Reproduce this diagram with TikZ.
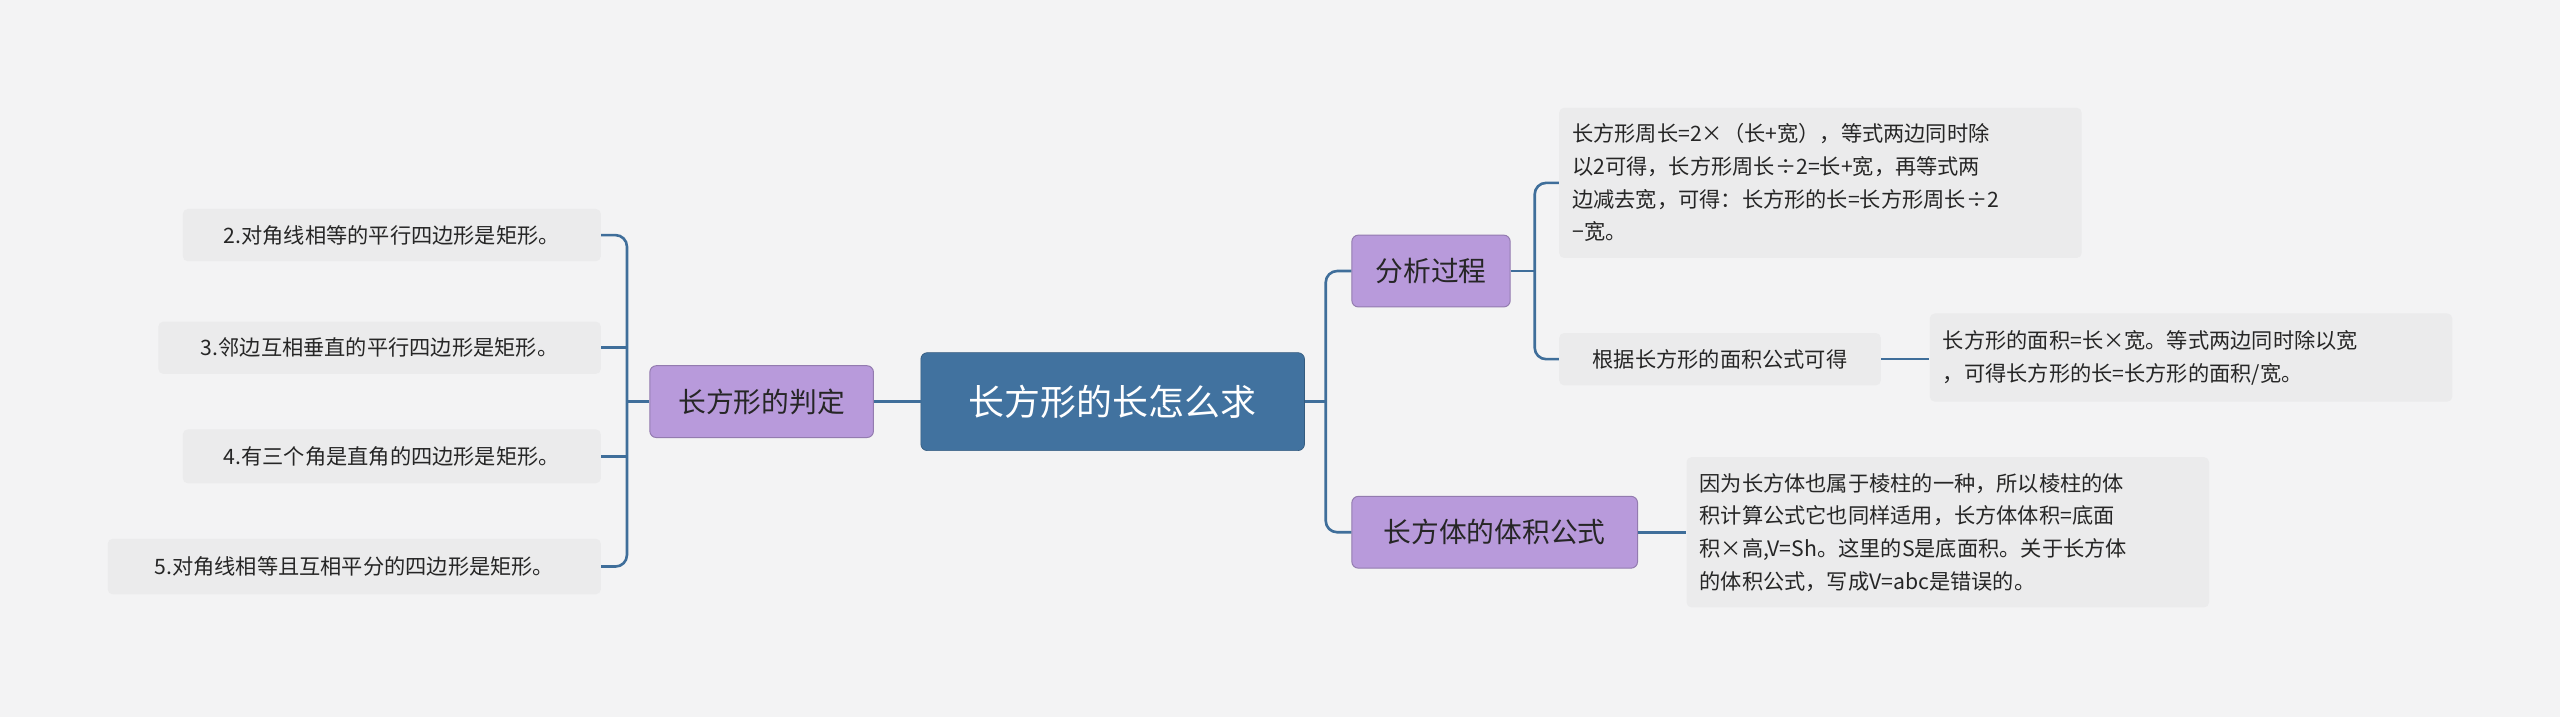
\documentclass[tikz,border=0pt]{standalone}
\usepackage{fontspec}
\setmainfont{Noto Sans CJK SC}
\begin{document}
\begin{tikzpicture}[x=1pt,y=-1pt,
  conn/.style={draw=linec,line width=1.6pt},
  leaf/.style={fill=leafc,rounded corners=3pt,font=\fontsize{13}{20}\selectfont,text=black!85,inner sep=0pt,align=left,anchor=center},
  mid/.style={fill=midc,draw=midc!80!black,line width=0.6pt,rounded corners=4pt,font=\fontsize{17}{20}\selectfont,text=black!85,inner sep=0pt,anchor=center}]
\definecolor{linec}{HTML}{3F6E9A}
\definecolor{leafc}{HTML}{EBEBEC}
\definecolor{midc}{HTML}{B89ADB}
\definecolor{rootc}{HTML}{41729F}
\definecolor{bg}{HTML}{F3F3F4}
\fill[bg] (0,0) rectangle (1568,439);
\useasboundingbox (0,0) rectangle (1568,439);
\node[fill=rootc,draw=rootc!80!black,rounded corners=4pt,text=white,font=\fontsize{22}{26}\selectfont,minimum width=235,minimum height=60,inner sep=0pt] (root) at (681.5,246) {长方形的长怎么求};
\node[mid,minimum width=137,minimum height=44] (judge) at (466.5,246) {长方形的判定};
\node[mid,minimum width=97,minimum height=44] (ana) at (876.5,166) {分析过程};
\node[mid,minimum width=175,minimum height=44] (vol) at (915.5,326) {长方体的体积公式};
\node[leaf,minimum width=256,minimum height=32] (l1) at (240,144) {2.对角线相等的平行四边形是矩形。};
\node[leaf,minimum width=271,minimum height=32] (l2) at (232.5,213) {3.邻边互相垂直的平行四边形是矩形。};
\node[leaf,minimum width=256,minimum height=33] (l3) at (240,279.5) {4.有三个角是直角的四边形是矩形。};
\node[leaf,minimum width=302,minimum height=34] (l4) at (217,347) {5.对角线相等且互相平分的四边形是矩形。};
\node[leaf,minimum width=320,minimum height=92,text width=304] (a1) at (1115,112) {长方形周长=2×（长+宽），等式两边同时除\\以2可得，长方形周长÷2=长+宽，再等式两\\边减去宽，可得：长方形的长=长方形周长÷2\\−宽。};
\node[leaf,minimum width=197,minimum height=32] (a2) at (1053.5,220) {根据长方形的面积公式可得};
\node[leaf,minimum width=320,minimum height=54,text width=304] (a3) at (1342,219) {长方形的面积=长×宽。等式两边同时除以宽\\，可得长方形的长=长方形的面积/宽。};
\node[leaf,minimum width=320,minimum height=92,text width=304] (v1) at (1193,326) {因为长方体也属于棱柱的一种，所以棱柱的体\\积计算公式它也同样适用，长方体体积=底面\\积×高,V=Sh。这里的S是底面积。关于长方体\\的体积公式，写成V=abc是错误的。};
\coordinate (bl) at (384,246);
\coordinate (br) at (812,246);
\coordinate (ba) at (940,166);
\draw[conn] (root.west) -- (judge.east);
\draw[conn] (judge.west) -- (bl);
\draw[conn,rounded corners=7] (l1.east) -| (bl) |- (l4.east);
\draw[conn] (l2.east) -- (l2.east -| bl);
\draw[conn] (l3.east) -- (l3.east -| bl);
\draw[conn] (root.east) -- (br);
\draw[conn,rounded corners=7] (ana.west) -| (br) |- (vol.west);
\draw[conn] (ana.east) -- (ba);
\draw[conn,rounded corners=7] (a1.west) -| (ba) |- (a2.west);
\draw[conn] (a2.east) -- (a3.west |- a2.east);
\draw[conn] (vol.east) -- (v1.west);
\end{tikzpicture}
\end{document}
